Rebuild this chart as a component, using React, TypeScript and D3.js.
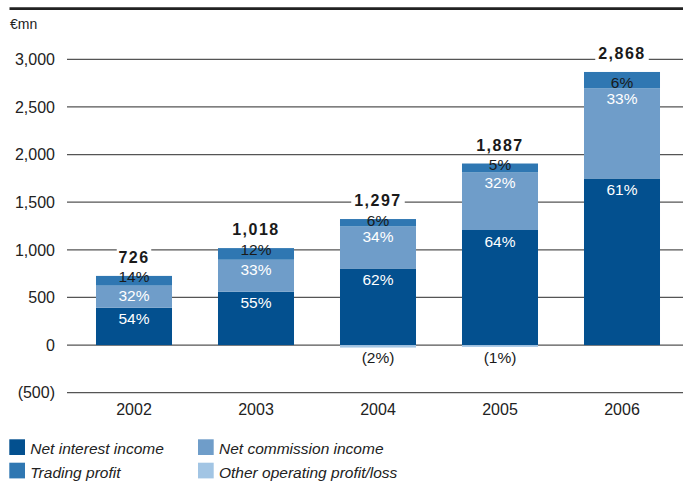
import React from "react";
import * as d3 from "d3";

const years = ["2002", "2003", "2004", "2005", "2006"];
const totals = [726, 1018, 1297, 1887, 2868];
const totalLabels = ["726", "1,018", "1,297", "1,887", "2,868"];
const netInterest = [392, 560, 804, 1208, 1749];
const netCommission = [232, 336, 441, 604, 946];
const trading = [102, 122, 78, 94, 172];
const otherOperating = [0, 0, -26, -19, 0];
const pctInterest = ["54%", "55%", "62%", "64%", "61%"];
const pctCommission = ["32%", "33%", "34%", "32%", "33%"];
const pctTrading = ["14%", "12%", "6%", "5%", "6%"];
const pctOther = ["", "", "(2%)", "(1%)", ""];
const yTicks = [-500, 0, 500, 1000, 1500, 2000, 2500, 3000];
const yTickLabels = ["(500)", "0", "500", "1,000", "1,500", "2,000", "2,500", "3,000"];
const seriesNames = ["Net interest income", "Net commission income", "Trading profit", "Other operating profit/loss"];
const colors = ["#03508f", "#6f9dc9", "#2f77b2", "#a2c5e4"];

const FONT = "'Liberation Sans', Arial, sans-serif";

export default function App() {
  const W = 683, H = 481;
  const x = d3.scaleBand<string>().domain(years).range([73, 683]).paddingInner(0.377).paddingOuter(0.1885);
  const y = d3.scaleLinear().domain([-500, 3000]).range([392.7, 59.3]);
  const bw = x.bandwidth();

  return (
    <svg width={W} height={H} style={{ position: "absolute", left: 0, top: 0, background: "#fff" }} fontFamily={FONT}>
      <rect x={0} y={0} width={W} height={H} fill="#fff" />
      <line x1={9.5} x2={683} y1={8.6} y2={8.6} stroke="#222" strokeWidth={2.6} />
      <text x={10} y={29} fontSize={14} fill="#222">€mn</text>
      {yTicks.map((t, i) => (
        <g key={t}>
          <line x1={67} x2={683} y1={y(t)} y2={y(t)} stroke="#555" strokeWidth={1.3} />
          <text x={55} y={y(t) + 5.7} fontSize={16} textAnchor="end" fill="#222">{yTickLabels[i]}</text>
        </g>
      ))}
      {years.map((yr, i) => {
        const x0 = x(yr)!;
        const cx = x0 + bw / 2;
        const niiTop = y(netInterest[i]);
        const nciTop = y(netInterest[i] + netCommission[i]);
        const trTop = y(netInterest[i] + netCommission[i] + trading[i]);
        const trH = nciTop - trTop;
        const trLabelCenter = trH >= 14 ? trTop + trH / 2 + 2 : trTop + 1;
        return (
          <g key={yr}>
            <rect x={x0} y={niiTop} width={bw} height={y(0) - niiTop} fill={colors[0]} />
            <rect x={x0} y={nciTop} width={bw} height={niiTop - nciTop} fill={colors[1]} />
            <rect x={x0} y={trTop} width={bw} height={nciTop - trTop} fill={colors[2]} />
            {otherOperating[i] !== 0 && (
              <rect x={x0} y={y(0)} width={bw} height={y(otherOperating[i]) - y(0)} fill={colors[3]} />
            )}
            <text x={cx} y={niiTop + 16.5} fontSize={15.5} textAnchor="middle" fill="#fff">{pctInterest[i]}</text>
            <text x={cx} y={nciTop + 15.5} fontSize={15.5} textAnchor="middle" fill="#fff">{pctCommission[i]}</text>
            <text x={cx} y={trLabelCenter + 5.5} fontSize={15.5} textAnchor="middle" fill="#1a1a1a">{pctTrading[i]}</text>
            {pctOther[i] && (
              <text x={cx} y={362.5} fontSize={15.5} textAnchor="middle" fill="#1a1a1a">{pctOther[i]}</text>
            )}
            <rect x={cx - (totalLabels[i].length * 9.5 + 6) / 2} y={trTop - 27} width={totalLabels[i].length * 9.5 + 6} height={16} fill="#fff" />
            <text x={cx} y={trTop - 13} fontSize={16} fontWeight="bold" letterSpacing={1.5} textAnchor="middle" fill="#1a1a1a">{totalLabels[i]}</text>
            <text x={cx} y={415} fontSize={16} textAnchor="middle" fill="#222">{yr}</text>
          </g>
        );
      })}
      {seriesNames.map((name, i) => {
        const col = i % 2 === 0 ? 0 : 1;
        const row = i < 2 ? 0 : 1;
        const order = [0, 1, 2, 3];
        const lx = col === 0 ? 9.3 : 198;
        const ly = row === 0 ? 439.3 : 462.7;
        return (
          <g key={name}>
            <rect x={lx} y={ly} width={15.7} height={15.7} fill={colors[order[i]]} />
            <text x={lx + 21} y={ly + 15} fontSize={15.5} fontStyle="italic" fill="#222">{name}</text>
          </g>
        );
      })}
    </svg>
  );
}
